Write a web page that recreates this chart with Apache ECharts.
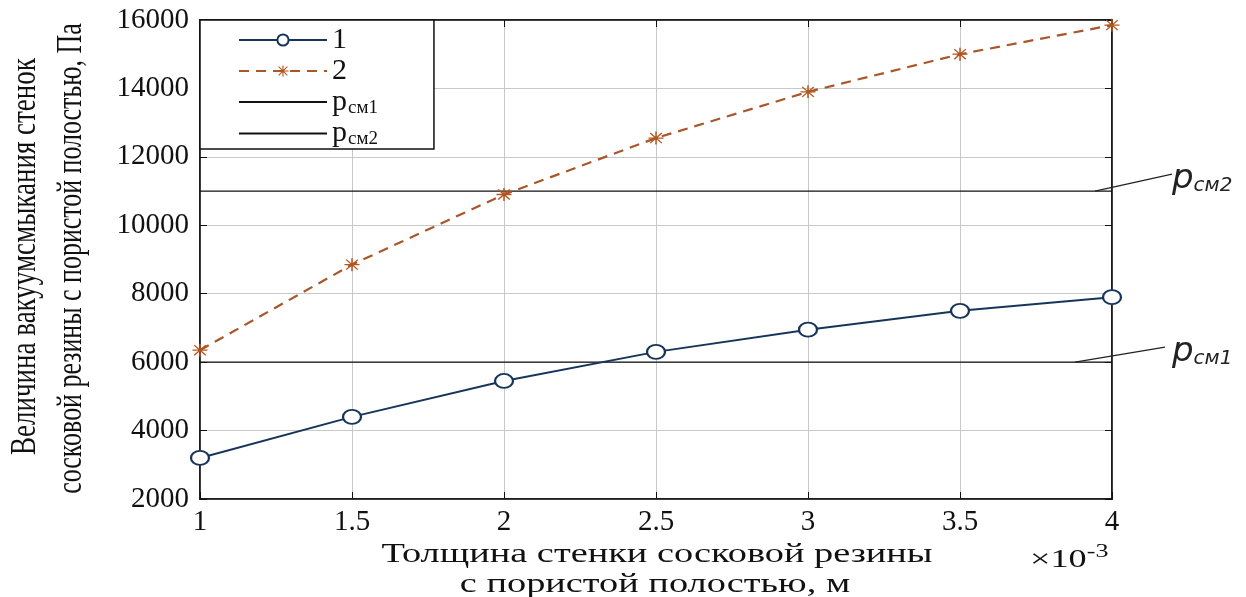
<!DOCTYPE html>
<html>
<head>
<meta charset="utf-8">
<script src="https://cdn.jsdelivr.net/npm/echarts@6/dist/echarts.min.js"></script>
<style>
html,body{margin:0;padding:0;background:#fff;}
#c{width:1246px;height:597px;}
</style>
</head>
<body>
<div id="c"></div>
<script>
// ---- data ----
const thickness = [1, 1.5, 2, 2.5, 3, 3.5, 4];          // ×10^-3 m
const series1 = [3200, 4400, 5450, 6300, 6950, 7500, 7900];
const series2 = [6350, 8850, 10900, 12550, 13900, 15000, 15850];
const pcm1 = 6000;
const pcm2 = 11000;
const seriesNames = ['1', '2', 'pcm1', 'pcm2'];
const yLabelLines = ['Величина вакуумсмыкания стенок', 'сосковой резины с пористой полостью, Па'];
const xLabelLines = ['Толщина стенки сосковой резины', 'с пористой полостью, м'];

const xMin = thickness[0], xMax = thickness[thickness.length - 1];
const pair = (xs, ys) => xs.map((x, i) => [x, ys[i]]);

const asterisk = 'path://M9 0L11 0L11 20L9 20ZM0 9L20 9L20 11L0 11ZM1.6 2.9L2.9 1.6L18.4 17.1L17.1 18.4ZM17.1 1.6L18.4 2.9L2.9 18.4L1.6 17.1Z';

const chart = echarts.init(document.getElementById('c'), null, {renderer: 'canvas'});
const axisFont = '"Liberation Serif", "Times New Roman", serif';

const option = {
  backgroundColor: '#fff',
  animation: false,
  textStyle: {fontFamily: axisFont},
  grid: {left: 200, right: 134, top: 20, bottom: 98, show: true, borderColor: '#111', borderWidth: 1.5, backgroundColor: 'transparent'},
  legend: {
    left: 200, top: 20, orient: 'vertical',
    data: [
      {name: seriesNames[0]}, {name: seriesNames[1]},
      {name: seriesNames[2], itemStyle: {opacity: 0}},
      {name: seriesNames[3], itemStyle: {opacity: 0}}
    ],
    backgroundColor: '#fff', borderColor: '#111', borderWidth: 1.5,
    padding: [5, 56, 0, 38],
    itemWidth: 88, itemHeight: 14, itemGap: 1,
    formatter: n => n === 'pcm1' ? '{p|p}{s|см1}' : n === 'pcm2' ? '{p|p}{s|см2}' : '{n|' + n + '}',
    textStyle: {
      color: '#111', fontFamily: axisFont,
      rich: {
        n: {fontFamily: axisFont, fontSize: 30, color: '#111', lineHeight: 25},
        p: {fontFamily: axisFont, fontSize: 30, color: '#111', lineHeight: 31},
        s: {fontFamily: axisFont, fontSize: 19, color: '#111', verticalAlign: 'bottom', padding: [9, 0, 0, 1], lineHeight: 31}
      }
    }
  },
  xAxis: [{
    type: 'value', min: xMin, max: xMax, interval: 0.5,
    axisLine: {show: true, lineStyle: {color: '#111', width: 1.5}},
    axisTick: {show: true, inside: true, length: 7, lineStyle: {color: '#111'}},
    axisLabel: {fontFamily: axisFont, fontSize: 29, color: '#111', margin: 9},
    splitLine: {show: true, lineStyle: {color: '#c8c8c8', width: 1}}
  }, {
    type: 'value', min: xMin, max: xMax, interval: 0.5, position: 'top',
    axisLine: {show: true, lineStyle: {color: '#111', width: 1.5}},
    axisTick: {show: true, inside: true, length: 7, lineStyle: {color: '#111'}},
    axisLabel: {show: false}, splitLine: {show: false}
  }],
  yAxis: [{
    type: 'value', min: 2000, max: 16000, interval: 2000,
    axisLine: {show: true, lineStyle: {color: '#111', width: 1.5}},
    axisTick: {show: true, inside: true, length: 7, lineStyle: {color: '#111'}},
    axisLabel: {fontFamily: axisFont, fontSize: 29, color: '#111', margin: 11, formatter: v => String(v)},
    splitLine: {show: true, lineStyle: {color: '#c8c8c8', width: 1}}
  }, {
    type: 'value', min: 2000, max: 16000, interval: 2000, position: 'right',
    axisLine: {show: true, lineStyle: {color: '#111', width: 1.5}},
    axisTick: {show: true, inside: true, length: 7, lineStyle: {color: '#111'}},
    axisLabel: {show: false}, splitLine: {show: false}
  }],
  series: [
    {
      name: seriesNames[0], type: 'line', data: pair(thickness, series1),
      lineStyle: {color: '#17355a', width: 2},
      itemStyle: {color: '#17355a', borderColor: '#17355a', borderWidth: 2.2},
      symbol: 'emptyCircle', symbolSize: [18, 14], z: 5
    },
    {
      name: seriesNames[1], type: 'line', data: pair(thickness, series2),
      lineStyle: {color: '#a9562a', width: 2.2, type: [10, 7]},
      itemStyle: {color: '#b5551e'},
      symbol: asterisk, symbolSize: [15, 13], z: 5
    },
    {
      name: seriesNames[2], type: 'line', data: [[xMin, pcm1], [xMax, pcm1]],
      lineStyle: {color: '#111', width: 1.2}, itemStyle: {color: '#111'}, symbol: 'none', z: 3
    },
    {
      name: seriesNames[3], type: 'line', data: [[xMin, pcm2], [xMax, pcm2]],
      lineStyle: {color: '#111', width: 1.2}, itemStyle: {color: '#111'}, symbol: 'none', z: 3
    }
  ]
};
chart.setOption(option);

// annotation / axis names positioned relative to the chart's scales
const p1 = chart.convertToPixel({gridIndex: 0}, [xMax, pcm1]);
const p2 = chart.convertToPixel({gridIndex: 0}, [xMax, pcm2]);
const bl = chart.convertToPixel({gridIndex: 0}, [xMin, 2000]);
const tr = chart.convertToPixel({gridIndex: 0}, [xMax, 16000]);
const cx = (bl[0] + tr[0]) / 2;
const cy = (bl[1] + tr[1]) / 2;

const annoRich = {
  p: {fontFamily: 'DejaVu Sans', fontStyle: 'italic', fontSize: 34, fill: '#222'},
  s: {fontFamily: 'DejaVu Sans', fontStyle: 'italic', fontSize: 20, fill: '#222', padding: [14, 0, 0, 0]}
};

chart.setOption({
  graphic: [
    {type: 'line', shape: {x1: p2[0] - 17, y1: p2[1], x2: p2[0] + 60, y2: p2[1] - 17}, style: {stroke: '#222', lineWidth: 1.2}, z: 10},
    {type: 'line', shape: {x1: p1[0] - 37, y1: p1[1], x2: p1[0] + 53, y2: p1[1] - 15}, style: {stroke: '#222', lineWidth: 1.2}, z: 10},
    {type: 'text', x: p2[0] + 60, y: p2[1] - 12, style: {text: '{p|p}{s|см2}', rich: annoRich, verticalAlign: 'middle', align: 'left'}, z: 10},
    {type: 'text', x: p1[0] + 60, y: p1[1] - 10, style: {text: '{p|p}{s|см1}', rich: annoRich, verticalAlign: 'middle', align: 'left'}, z: 10},
    // y axis name (two lines, rotated)
    {type: 'text', x: 26, y: cy - 3, rotation: Math.PI / 2, scaleX: 1, scaleY: 1.3,
     style: {text: yLabelLines[0], font: '27px "Liberation Serif"', fill: '#111', align: 'center', verticalAlign: 'middle'}},
    {type: 'text', x: 72, y: cy - 1, rotation: Math.PI / 2, scaleX: 0.96, scaleY: 1.3,
     style: {text: yLabelLines[1], font: '27px "Liberation Serif"', fill: '#111', align: 'center', verticalAlign: 'middle'}},
    // x axis name
    {type: 'text', x: cx + 1, y: 555, scaleX: 1.42, scaleY: 1,
     style: {text: xLabelLines[0], font: '27px "Liberation Serif"', fill: '#111', align: 'center', verticalAlign: 'middle'}},
    {type: 'text', x: cx - 1, y: 585, scaleX: 1.42, scaleY: 1,
     style: {text: xLabelLines[1], font: '27px "Liberation Serif"', fill: '#111', align: 'center', verticalAlign: 'middle'}},
    // exponent
    {type: 'text', x: 1030, y: 560, scaleX: 1.45, scaleY: 1,
     style: {text: '×10{sup|-3}', font: '25px "Liberation Serif"', fill: '#111', align: 'left', verticalAlign: 'middle',
       rich: {sup: {font: '18px "Liberation Serif"', fill: '#111', padding: [0, 0, 16, 0]}}}}
  ]
});
</script>
</body>
</html>
